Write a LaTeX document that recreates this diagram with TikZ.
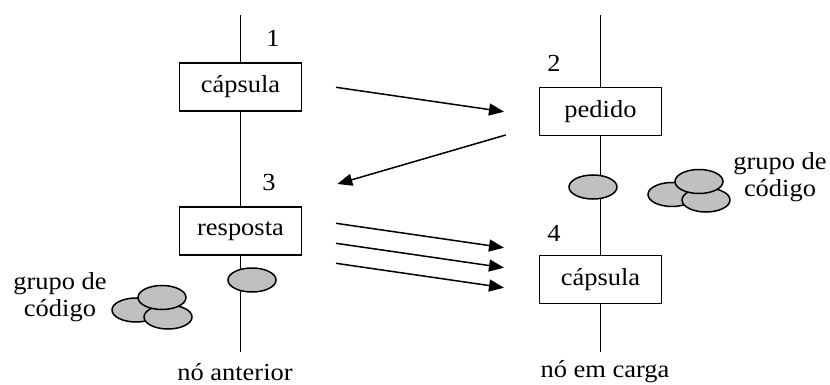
\documentclass[tikz,border=0pt]{standalone}
\usepackage{fontspec}
\setmainfont{Liberation Serif}[FakeStretch=1.08]
\usetikzlibrary{arrows.meta,shapes.geometric}
\definecolor{blobgray}{RGB}{192,192,192}

\begin{document}
\begin{tikzpicture}[x=1pt,y=-1pt,line width=1.5pt,font=\fontsize{24.5}{27}\selectfont,
  box/.style={draw,fill=white,minimum width=122pt,minimum height=48pt,inner sep=0pt},
  blob/.style={draw,fill=blobgray,ellipse,minimum width=48pt,minimum height=24pt,inner sep=0pt},
  msg/.style={-{Triangle[length=15pt,width=12pt]}}]

\useasboundingbox (0,0) rectangle (830,385);

% the two nodes and their time lines
\coordinate (topL) at (240.5,15);
\coordinate (botL) at (240.5,352);
\coordinate (topR) at (600.5,15);
\coordinate (botR) at (600.5,352);

\node[box] (caps1) at (240.5,87) {cápsula};
\node[box] (resp)  at (240.5,231) {resposta};
\node[box] (ped)   at (600.5,111.5) {pedido};
\node[box] (caps4) at (600.5,279.5) {cápsula};

\draw (topL) -- (caps1) -- (resp) -- (botL);
\draw (topR) -- (ped) -- (caps4) -- (botR);

\node (n1) at (273,38) {1};
\node (n2) at (554,63) {2};
\node (n3) at (269,183) {3};
\node (n4) at (554,233) {4};

% code on the line
\node[blob] (codL) at (252,280) {};
\node[blob] (codR) at (593,187) {};

% groups of code
\node[blob] (gL1) at (136,310) {};
\node[blob] (gL2) at (168,317) {};
\node[blob] (gL3) at (162,297.5) {};
\node[blob] (gR1) at (672,194.5) {};
\node[blob] (gR2) at (706,200) {};
\node[blob] (gR3) at (699,181.5) {};

\node[align=center,inner sep=0pt] (txtL) at (60,297) {grupo de\\código};
\node[align=center,inner sep=0pt] (txtR) at (780,177) {grupo de\\código};

\node (antL) at (235,372) {nó anterior};
\node (antR) at (605,372) {nó em carga};

% messages
\coordinate (s1) at (336,87.3);
\coordinate (e1) at (504,111.7);
\coordinate (s2) at (505.7,135);
\coordinate (e2) at (337.3,184);
\draw[msg] (s1) -- (e1);
\draw[msg] (s2) -- (e2);

\foreach \i/\y in {3/223.3,4/243.3,5/263.3}{
  \coordinate (s\i) at (336,\y);
  \coordinate (e\i) at (504,\y+24.4);
  \draw[msg] (s\i) -- (e\i);
}

\end{tikzpicture}
\end{document}
